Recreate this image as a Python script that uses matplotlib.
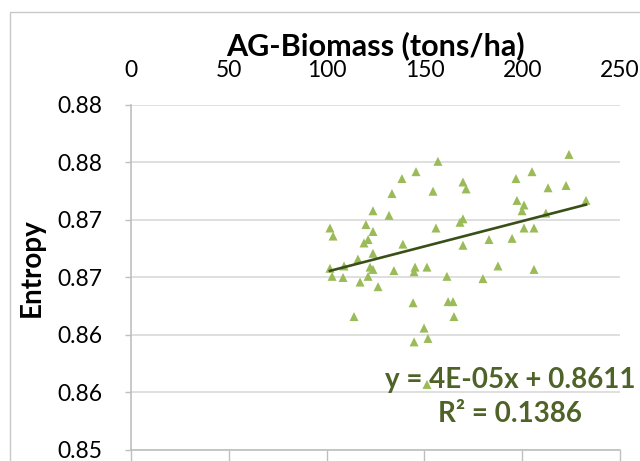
import numpy as np
import matplotlib
matplotlib.use("Agg")
import matplotlib.pyplot as plt
from matplotlib.patches import Rectangle

# above-ground biomass (tons/ha) and entropy for each plot
biomass = [156.9, 145.7, 138.5, 169.7, 171.3, 154.4, 133.4, 123.7, 131.9, 101.7,
           103.3, 120.1, 123.7, 121.2, 119.1, 155.9, 168.2, 169.7, 139.0, 169.7,
           123.7, 116.0, 101.7, 108.9, 122.2, 123.7, 134.4, 145.2, 144.7, 151.3,
           161.5, 102.8, 108.4, 121.2, 117.1, 126.3, 144.2, 162.1, 164.6, 179.9,
           187.6, 183.0, 194.8, 223.9, 205.0, 196.8, 213.2, 222.4, 197.3, 200.9,
           199.9, 212.1, 232.6, 200.9, 206.0, 206.0, 114.0, 165.1, 149.8, 151.8,
           144.7, 151.3]
entropy = [0.8751, 0.8742, 0.8736, 0.8733, 0.8727, 0.8725, 0.8723, 0.8708, 0.8704, 0.8693,
           0.8686, 0.8696, 0.8690, 0.8683, 0.8680, 0.8693, 0.8698, 0.8701, 0.8679, 0.8678,
           0.8671, 0.8666, 0.8658, 0.8660, 0.8659, 0.8657, 0.8656, 0.8659, 0.8655, 0.8659,
           0.8651, 0.8651, 0.8650, 0.8651, 0.8646, 0.8642, 0.8628, 0.8629, 0.8629, 0.8649,
           0.8660, 0.8683, 0.8684, 0.8757, 0.8742, 0.8736, 0.8728, 0.8730, 0.8717, 0.8713,
           0.8708, 0.8706, 0.8717, 0.8693, 0.8693, 0.8657, 0.8616, 0.8616, 0.8606, 0.8597,
           0.8594, 0.8557]

# linear trendline coefficients
trend_slope = 4.4e-05
trend_intercept = 0.8611
r_squared = 0.1386

x_ticks = [0, 50, 100, 150, 200, 250]
y_ticks = [0.850, 0.855, 0.860, 0.865, 0.870, 0.875, 0.880]
y_tick_labels = ["0.85", "0.86", "0.86", "0.87", "0.87", "0.88", "0.88"]

plt.rcParams["font.family"] = ["Lato", "DejaVu Sans"]

fig = plt.figure(figsize=(6.4, 4.61), dpi=100)
ax = fig.add_axes([0.2047, 0.0239, 0.7641, 0.7484])

# light border round the chart area
fig.patches.append(Rectangle((10 / 640, -0.2), 1.2, 1.2 - 12 / 461,
                             transform=fig.transFigure, fill=False,
                             edgecolor="#c8c8c8", linewidth=1.0))

ax.scatter(biomass, entropy, marker="^", s=42, color="#9bbb59",
           edgecolors="none", zorder=3)

# trendline over the range of the data
x_line = np.array([min(biomass), max(biomass)])
ax.plot(x_line, trend_slope * x_line + trend_intercept, color="#3a4f17",
        linewidth=1.9, zorder=4)

eq_text = "y = {:.0E}x + {}\nR\u00b2 = {}".format(trend_slope, trend_intercept, r_squared)
fig.text(510 / 640, 1 - 397 / 461, eq_text, ha="center", va="center",
         multialignment="center", fontsize=20, fontweight="bold",
         color="#4f6228", linespacing=1.35, zorder=5)

ax.set_xlim(0, 250)
ax.set_ylim(0.85, 0.88)
ax.set_xticks(x_ticks)
ax.set_yticks(y_ticks)
ax.set_yticklabels(y_tick_labels)

# x labels sit on top, tick marks stay on the bottom axis line
ax.xaxis.set_ticks_position("bottom")
ax.tick_params(axis="x", labeltop=True, labelbottom=False, length=8,
               width=1, color="#bfbfbf", pad=9, labelsize=16.5)
ax.tick_params(axis="y", length=4.5, width=1, color="#bfbfbf", pad=16,
               labelsize=16.5)
ax.xaxis.set_label_position("top")
ax.set_xlabel("AG-Biomass (tons/ha)", fontsize=22, fontweight="bold", labelpad=4)

ax.grid(axis="y", color="#d9d9d9", linewidth=1.2)
ax.set_axisbelow(True)
for side in ["top", "right"]:
    ax.spines[side].set_visible(False)
for side in ["left", "bottom"]:
    ax.spines[side].set_color("#bfbfbf")
    ax.spines[side].set_linewidth(1.2)

fig.text(32 / 640, 1 - 268 / 461, "Entropy", rotation=90, ha="center",
         va="center", fontsize=20, fontweight="bold")

fig.savefig("out.png", dpi=100)
